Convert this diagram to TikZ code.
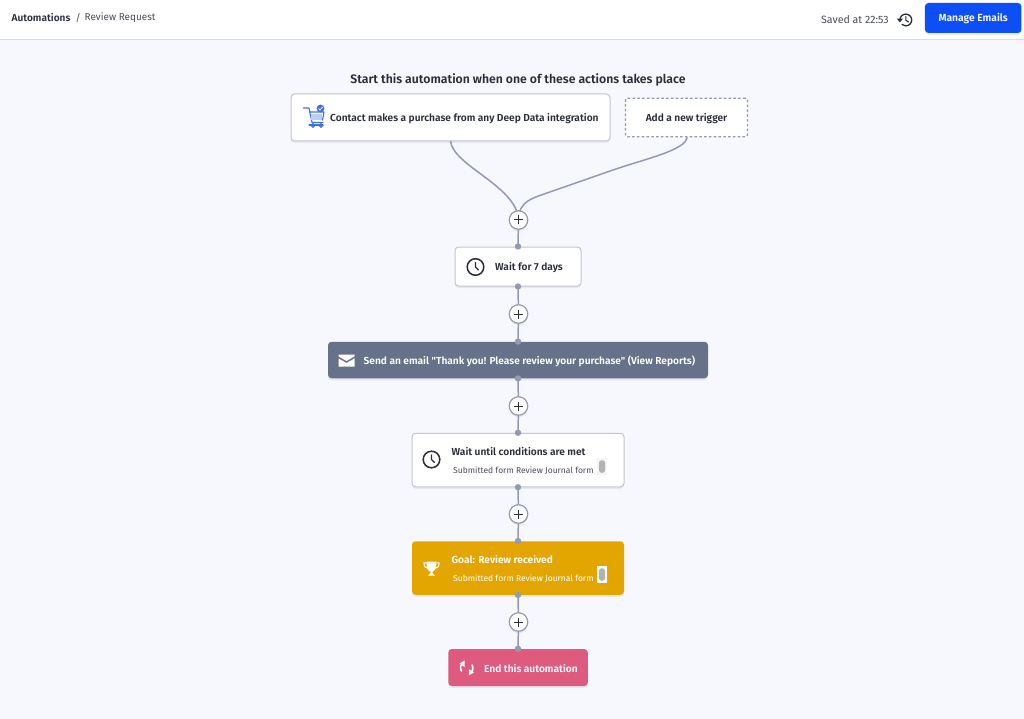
\documentclass[tikz,border=0pt]{standalone}
\usepackage{fontspec}
\setmainfont{Fira Sans}
\newfontfamily\semib{Fira Sans SemiBold}
\usetikzlibrary{shadows,calc}
\definecolor{pagebg}{HTML}{F7F8FD}
\definecolor{linecol}{HTML}{9499B5}
\definecolor{inkdark}{HTML}{2B2E3A}
\definecolor{inkgrey}{HTML}{4A4D58}
\definecolor{boxedge}{HTML}{C2C5D3}
\definecolor{blueb}{HTML}{0B4FF5}
\definecolor{slateb}{HTML}{667289}
\definecolor{goldb}{HTML}{E3A600}
\definecolor{pinkb}{HTML}{DE5A7F}
\definecolor{cartblue}{HTML}{3F6FE8}
\tikzset{
  x=1pt,y=-1pt,
  softshadow/.style={drop shadow={opacity=.13,shadow xshift=0pt,shadow yshift=-2pt}},
  card/.style={rectangle,rounded corners=3.5pt,inner sep=0pt,softshadow},
  white card/.style={card,fill=white,draw=boxedge,line width=1pt},
  flow/.style={draw=linecol,line width=1.5pt},
  dotp/.style={circle,fill=linecol,inner sep=0pt,minimum size=6.4pt},
  plusb/.style={circle,fill=white,draw=linecol,line width=1.2pt,inner sep=0pt,minimum size=18.5pt,softshadow},
  title/.style={inner sep=0pt,anchor=west,text=inkdark,font=\semib\fontsize{10.17}{12}\selectfont},
  sub/.style={inner sep=0pt,anchor=west,text=inkgrey,font=\fontsize{8.5}{11}\selectfont},
  whitet/.style={title,text=white},
  pill/.style={rectangle,rounded corners=2.5pt,fill=black!30,inner sep=0pt,minimum width=6pt,minimum height=12.5pt},
  icon/.style={draw=inkdark,line width=1.5pt,line cap=round,line join=round},
  wicon/.style={draw=white,line width=1.6pt,line cap=round,line join=round},
}
\newcommand{\clockicon}[1]{%
  \draw[icon] (#1) circle (8.3pt);
  \draw[icon,line width=1.3pt] ($(#1)+(0,-4.5)$) -- (#1) -- ($(#1)+(3,3)$);}
\begin{document}
\begin{tikzpicture}
\useasboundingbox (0,0) rectangle (1024,719);
\fill[pagebg] (0,0) rectangle (1024,719);
\fill[white] (0,0) rectangle (1024,39.5);
\draw[black!14,line width=.9pt] (0,39.8) -- (1024,39.8);
% header
\node[inner sep=0pt,anchor=west,text=inkdark,font=\semib\fontsize{10.1}{12}\selectfont] (crumba) at (11.5,18) {Automations};
\node[inner sep=0pt,anchor=west,text=inkgrey,font=\fontsize{10}{12}\selectfont] (crumbs) at (75.5,18) {/};
\node[inner sep=0pt,anchor=west,text=inkgrey,font=\fontsize{9.95}{12}\selectfont] (crumbb) at (84.5,18) {Review Request};
\node[inner sep=0pt,anchor=west,text=inkgrey,font=\fontsize{10.6}{12}\selectfont] (saved) at (821,19.5) {Saved at 22:53};
\node[card,fill=blueb,minimum width=96.5pt,minimum height=30pt,drop shadow={opacity=0}] (manage) at (973.2,18) {};
\node[inner sep=0pt,text=white,font=\semib\fontsize{10.3}{12}\selectfont] (managet) at (973.2,18.8) {Manage Emails};
% history icon
\draw[icon,line width=1.3pt] (899.9,20) arc[start angle=180,end angle=-130,radius=5.9pt];
\fill[inkdark] (896.8,18.6) -- (903,18.6) -- (899.9,22.4) -- cycle;
\draw[icon,line width=1.1pt] (905.8,16.5) -- (905.8,20.3) -- (908.6,22);
% heading
\node[inner sep=0pt,text=inkdark,font=\semib\fontsize{12.25}{14}\selectfont] (head) at (518,79.5) {Start this automation when one of these actions takes place};
% boxes
\node[white card,minimum width=319pt,minimum height=47pt] (trig) at (450.5,117.5) {};
\node[rectangle,rounded corners=2pt,fill=white,draw=linecol,line width=1.3pt,dash pattern=on 2.6pt off 2.2pt,minimum width=122pt,minimum height=38.5pt,inner sep=0pt] (addt) at (686.5,117.5) {};
\node[white card,minimum width=126pt,minimum height=39pt] (wait) at (518,266.5) {};
\node[card,fill=slateb,minimum width=380pt,minimum height=36.5pt] (mail) at (518,360) {};
\node[white card,minimum width=212pt,minimum height=53.5pt] (cond) at (518,460) {};
\node[card,fill=goldb,minimum width=212pt,minimum height=53.5pt] (goal) at (518,568) {};
\node[card,fill=pinkb,minimum width=139.5pt,minimum height=37pt] (endb) at (518,667.5) {};
% plus buttons positions
\coordinate (p1) at (518.5,220);
\coordinate (p2) at (518.5,314);
\coordinate (p3) at (518.5,406);
\coordinate (p4) at (518.5,514);
\coordinate (p5) at (518.5,622);
% connectors
\coordinate (c1) at (450.5,141);
\coordinate (c2) at (687,137);
\coordinate (c3) at (613,170);
\coordinate (c4) at (547,193);
\draw[flow] (c1) .. controls (453,166) and (517,186) .. (p1);
\draw[flow] (c2) .. controls (687,150) and (643,159.5) .. (c3) -- (c4) .. controls (533,198) and (518.5,201) .. (p1);
\draw[flow] (p1) -- (wait.north);
\draw[flow] (wait.south) -- (p2);
\draw[flow] (p2) -- (mail.north);
\draw[flow] (mail.south) -- (p3);
\draw[flow] (p3) -- (cond.north);
\draw[flow] (cond.south) -- (p4);
\draw[flow] (p4) -- (goal.north);
\draw[flow] (goal.south) -- (p5);
\draw[flow] (p5) -- (endb.north);
\foreach \n/\c in {wd1/wait.north,wd2/wait.south,md1/mail.north,md2/mail.south,cd1/cond.north,cd2/cond.south,gd1/goal.north,gd2/goal.south,ed1/endb.north}{
  \node[dotp] (\n) at (\c) {};
}
\foreach \n/\c in {b1/p1,b2/p2,b3/p3,b4/p4,b5/p5}{
  \node[plusb] (\n) at (\c) {};
  \draw[inkdark,line width=1pt] ($(\c)+(-4.5,0)$) -- ($(\c)+(4.5,0)$) ($(\c)+(0,-4.5)$) -- ($(\c)+(0,4.5)$);
}
% texts
\node[title] (t1) at (330,118.5) {Contact makes a purchase from any Deep Data integration};
\node[title,anchor=center] (t2) at (686.5,118.5) {Add a new trigger};
\node[title] (t3) at (495,268) {Wait for 7 days};
\node[whitet] (t4) at (363.5,361) {Send an email "Thank you! Please review your purchase" (View Reports)};
\node[title] (t5) at (451.5,451.5) {Wait until conditions are met};
\node[sub] (t6) at (453,470.5) {Submitted form Review Journal form};
\node[whitet] (t7) at (451.5,559.5) {Goal: Review received};
\node[sub,text=white] (t8) at (453,578.5) {Submitted form Review Journal form};
\node[whitet,anchor=west] (t9) at (484,668.5) {End this automation};
% form thumbnails
\node[rectangle,fill=black!4,inner sep=0pt,minimum width=10.5pt,minimum height=17pt] (f1bg) at (602,466.5) {};
\node[pill] (f1) at (602,466.5) {};
\node[rectangle,fill=white,inner sep=0pt,minimum width=10.5pt,minimum height=17pt] (f2bg) at (602,574.5) {};
\node[pill] (f2) at (602,574.5) {};
% clock icons
\clockicon{475.5,267}
\clockicon{431.5,459.5}
% cart
\begin{scope}[draw=cartblue,line width=1.1pt,line cap=round,line join=round]
\draw (303.5,108) -- (309,108) -- (312,122.5) -- (323,122.5);
\draw (309.5,112) -- (324,112) -- (322.5,120);
\fill[cartblue!35] (311,114) rectangle (322,120);
\draw (309,125) -- (323,125);
\draw (313,125.5) circle (1.9pt) (321,125.5) circle (1.9pt);
\end{scope}
\fill[cartblue] (320.5,108.5) circle (3.9pt);
\draw[white,line width=.8pt] (318.6,108.5) -- (320,110) -- (322.5,107.2);
% envelope
\fill[white] (338.5,354.5) -- (354.5,354.5) -- (354.5,356.4) -- (346.5,361) -- (338.5,356.4) -- cycle;
\fill[white] (338.5,358.4) -- (346.5,363) -- (354.5,358.4) -- (354.5,366.5) -- (338.5,366.5) -- cycle;
% trophy
\fill[white] (426.5,561.5) -- (436.5,561.5) -- (436,568) .. controls (435.5,570.5) and (433,571) .. (432.6,571.5) -- (432.6,573.5) -- (435,575.5) -- (428,575.5) -- (430.4,573.5) -- (430.4,571.5) .. controls (430,571) and (427,570.5) .. (426.8,568) -- cycle;
\draw[white,line width=1.1pt] (426.5,562.8) -- (424,562.8) .. controls (424,567) and (426,568.3) .. (428,568.3);
\draw[white,line width=1.1pt] (436.5,562.8) -- (439,562.8) .. controls (439,567) and (437,568.3) .. (435,568.3);
% loop arrows
\draw[wicon] (463,663.5) .. controls (460,664.5) and (460,669) .. (461.5,671);
\fill[white] (459.5,663.5) -- (464.5,660.5) -- (464.5,667) -- cycle;
\draw[wicon] (470,673) .. controls (473,672) and (473.5,667) .. (472,665);
\fill[white] (473.8,672.5) -- (468.8,675.5) -- (468.8,669) -- cycle;
\end{tikzpicture}
\end{document}
